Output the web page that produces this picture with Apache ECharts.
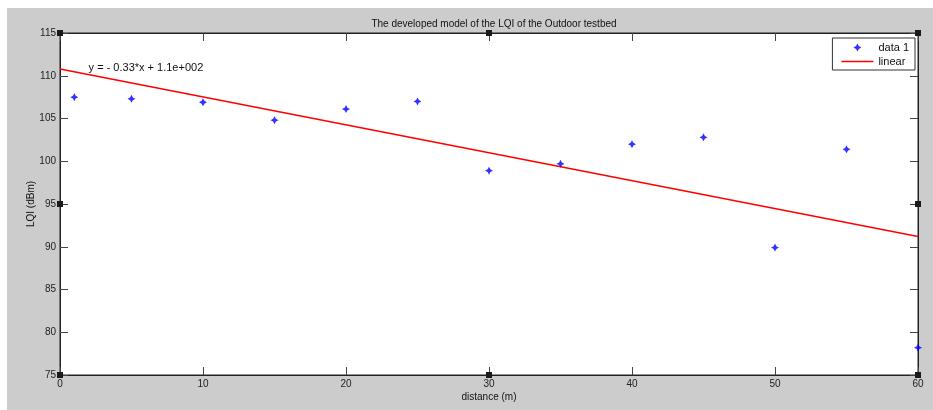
<!DOCTYPE html>
<html>
<head>
<meta charset="utf-8">
<script src="https://cdn.jsdelivr.net/npm/echarts@6/dist/echarts.min.js"></script>
<style>
html,body{margin:0;padding:0;background:#fff;}
#c{width:933px;height:410px;}
</style>
</head>
<body>
<div id="c"></div>
<script>
// ---- data ----
const distances = [1, 5, 10, 15, 20, 25, 30, 35, 40, 45, 50, 55, 60];
const lqiValues = [107.5, 107.3, 106.9, 104.8, 106.1, 107.0, 98.9, 99.7, 102.0, 102.8, 89.9, 101.4, 78.2];
const fitX = [0, 60];
const fitY = [110.8, 91.2];
const xTicks = [0, 10, 20, 30, 40, 50, 60];
const yTicks = [75, 80, 85, 90, 95, 100, 105, 110, 115];
const titleText = 'The developed model of the LQI of the Outdoor testbed';
const equationText = 'y = - 0.33*x + 1.1e+002';
const equationPos = [2, 110.9];

const FONT = 'Liberation Sans, Arial, sans-serif';
const starPath = 'path://M0,-10 L3.5,-3.5 L10,0 L3.5,3.5 L0,10 L-3.5,3.5 L-10,0 L-3.5,-3.5 Z';
const lineIcon = 'path://M0,0 M32,8 M0,3.2 L32,3.2 L32,4.8 L0,4.8 Z';

const chart = echarts.init(document.getElementById('c'), null, {renderer: 'canvas'});

const axisCommon = {
  type: 'value',
  splitLine: {show: false},
  axisLine: {show: true, onZero: false, lineStyle: {color: '#222', width: 1}},
  axisTick: {show: true, inside: true, length: 8, lineStyle: {color: '#444'}},
};

const option = {
  animation: false,
  backgroundColor: '#fff',
  title: {
    text: titleText, left: 489, textAlign: 'center', top: 14,
    textStyle: {fontFamily: FONT, fontSize: 10, fontWeight: 'normal', color: '#111'}
  },
  grid: {left: 60, right: 15, top: 33, bottom: 35, show: true, backgroundColor: '#fff', borderColor: '#222', borderWidth: 1},
  legend: {
    orient: 'vertical', right: 18, top: 38,
    backgroundColor: '#fff', borderColor: '#333', borderWidth: 1, borderRadius: 0,
    padding: [4, 6, 3, 9], itemGap: 3, itemWidth: 32, itemHeight: 8,
    textStyle: {fontFamily: FONT, fontSize: 11, color: '#111', width: 34, align: 'right'},
    data: [
      {name: 'data 1'},
      {name: 'linear', icon: lineIcon}
    ]
  },
  xAxis: [
    Object.assign({}, axisCommon, {
      min: xTicks[0], max: xTicks[xTicks.length - 1], interval: xTicks[1] - xTicks[0], position: 'bottom',
      name: 'distance (m)', nameLocation: 'middle', nameGap: 17, nameMoveOverlap: false,
      nameTextStyle: {fontFamily: FONT, fontSize: 10, color: '#111'},
      axisLabel: {fontFamily: FONT, fontSize: 10, color: '#222', margin: 4}
    }),
    Object.assign({}, axisCommon, {
      min: xTicks[0], max: xTicks[xTicks.length - 1], interval: xTicks[1] - xTicks[0], position: 'top',
      axisLabel: {show: false}
    })
  ],
  yAxis: [
    Object.assign({}, axisCommon, {
      min: yTicks[0], max: yTicks[yTicks.length - 1], interval: yTicks[1] - yTicks[0], position: 'left',
      name: 'LQI (dBm)', nameLocation: 'middle', nameGap: 24, nameRotate: 90, nameMoveOverlap: false,
      nameTextStyle: {fontFamily: FONT, fontSize: 10, color: '#111'},
      axisLabel: {fontFamily: FONT, fontSize: 10, color: '#222', margin: 4}
    }),
    Object.assign({}, axisCommon, {
      min: yTicks[0], max: yTicks[yTicks.length - 1], interval: yTicks[1] - yTicks[0], position: 'right',
      axisLabel: {show: false}
    })
  ],
  series: [
    {
      name: 'data 1', type: 'scatter', xAxisIndex: 0, yAxisIndex: 0,
      symbol: starPath, symbolSize: 8,
      itemStyle: {color: '#0000ff'},
      data: distances.map((d, i) => [d, lqiValues[i]]),
      z: 4
    },
    {
      name: 'linear', type: 'line', xAxisIndex: 0, yAxisIndex: 0,
      symbol: 'none', showSymbol: false,
      lineStyle: {color: '#ff0000', width: 1.5},
      itemStyle: {color: '#ff0000'},
      data: fitX.map((x, i) => [x, fitY[i]]),
      z: 3
    }
  ]
};
chart.setOption(option);

// figure background, handles, and equation annotation
const cx = (v) => chart.convertToPixel({xAxisIndex: 0}, v);
const cy = (v) => chart.convertToPixel({yAxisIndex: 0}, v);
const xL = cx(xTicks[0]), xR = cx(xTicks[xTicks.length - 1]), xM = (xL + xR) / 2;
const yT = cy(yTicks[yTicks.length - 1]), yB = cy(yTicks[0]), yM = (yT + yB) / 2;
const handles = [[xL, yT], [xM, yT], [xR, yT], [xL, yM], [xR, yM], [xL, yB], [xM, yB], [xR, yB]];
const eq = chart.convertToPixel({seriesIndex: 0}, equationPos);

chart.setOption({
  graphic: [
    {type: 'rect', z: -100, zlevel: 0, silent: true, shape: {x: 7, y: 8, width: 926, height: 402}, style: {fill: '#cccccc'}},
    {type: 'rect', z: -99, silent: true, shape: {x: xL, y: yT, width: xR - xL, height: yB - yT}, style: {fill: '#fff'}}
  ].concat(handles.map(h => ({
    type: 'rect', z: 100, silent: true,
    shape: {x: h[0] - 3, y: h[1] - 3, width: 6, height: 6},
    style: {fill: '#1a1a1a'}
  }))).concat([{
    type: 'text', z: 100, silent: true, x: eq[0], y: eq[1],
    style: {text: equationText, fill: '#111', font: '11px Liberation Sans, Arial, sans-serif', textAlign: 'left', textVerticalAlign: 'middle'}
  }])
});
</script>
</body>
</html>
